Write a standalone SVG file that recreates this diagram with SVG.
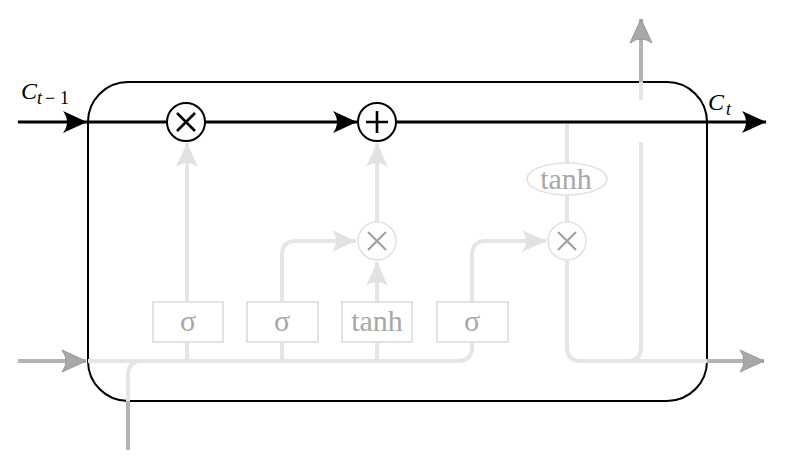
<svg xmlns="http://www.w3.org/2000/svg" width="785" height="455" viewBox="0 0 785 455">
<style>
.light{fill:none;stroke:#e5e5e5;stroke-width:4}
.dark{fill:none;stroke:#b3b3b3;stroke-width:4}
.cell{fill:none;stroke:#000;stroke-width:3}
.layer{fill:#fff;stroke:#e3e3e3;stroke-width:2}
.ltxt{font-family:"Liberation Serif","DejaVu Serif",serif;font-size:30px;fill:#a8a8a8;text-anchor:middle}
.gcirc{fill:#fff;stroke:#e2e2e2;stroke-width:1.6}
.gx{stroke:#9e9e9e;stroke-width:2;fill:none}
.bcirc{fill:#fff;stroke:#000;stroke-width:2}
.bx{stroke:#000;stroke-width:2.6;fill:none}
.lbl{font-family:"Liberation Serif","DejaVu Serif",serif;font-style:italic;fill:#000}
</style>
<defs>
<marker id="ab" markerUnits="userSpaceOnUse" viewBox="-26 -12 28 24" refX="0" refY="0" markerWidth="28" markerHeight="24" orient="auto">
<path d="M0,0 L-24,-11 Q-16,0 -24,11 Z" fill="#000"/>
</marker>
<marker id="al" markerUnits="userSpaceOnUse" viewBox="-26 -12 28 24" refX="0" refY="0" markerWidth="28" markerHeight="24" orient="auto">
<path d="M0,0 L-24,-11 Q-16,0 -24,11 Z" fill="#e2e2e2"/>
</marker>
<marker id="ag" markerUnits="userSpaceOnUse" viewBox="-26 -12 28 24" refX="0" refY="0" markerWidth="28" markerHeight="24" orient="auto">
<path d="M0,0 L-24,-11 Q-16,0 -24,11 Z" fill="#a8a8a8" stroke="#999" stroke-width="1"/>
</marker>
</defs>
<rect width="785" height="455" fill="#fff"/>

<g id="cell-box">
<rect x="88" y="82" width="619" height="319" rx="40" ry="40" fill="none" stroke="#000" stroke-width="2"/>
</g>

<g id="connectors">
<path class="dark" d="M18,361 H86" marker-end="url(#ag)"/>
<path class="dark" d="M128,450 V401"/>
<path class="light" d="M128,401 V375 Q128,361 142,361"/>
<path class="light" d="M88,361 H458 Q472,361 472,347 V342"/>
<path class="light" d="M187,342 V361 M282,342 V361 M377,342 V361"/>
<path class="light" d="M187,302 V143" marker-end="url(#al)"/>
<path class="light" d="M377,302 V262" marker-end="url(#al)"/>
<path class="light" d="M377,222 V143" marker-end="url(#al)"/>
<path class="light" d="M282,302 V255 Q282,241 296,241 H356" marker-end="url(#al)"/>
<path class="light" d="M472,302 V255 Q472,241 486,241 H546" marker-end="url(#al)"/>
<path class="light" d="M567,124 V163 M567,195 V222"/>
<path class="light" d="M567,260 V347 Q567,361 581,361 H707"/>
<path class="dark" d="M707,361 H764" marker-end="url(#ag)"/>
<path class="light" d="M627,361 Q641,361 641,347 V142"/>
<path class="light" d="M641,100 V82"/>
<path class="dark" d="M641,82 V19" marker-end="url(#ag)"/>
<path class="cell" d="M18,122 H87" marker-end="url(#ab)"/>
<path class="cell" d="M88,122 H168"/>
<path class="cell" d="M205,122 H357" marker-end="url(#ab)"/>
<path class="cell" d="M396,122 H766" marker-end="url(#ab)"/>
</g>

<g id="forget-mult">
<circle class="bcirc" cx="186" cy="122" r="19"/>
<path class="bx" d="M177,113 L195,131 M195,113 L177,131"/>
</g>
<g id="add">
<circle class="bcirc" cx="377" cy="122" r="19"/>
<path class="bx" d="M366,122 H388 M377,111 V133"/>
</g>
<g id="input-mult">
<circle class="gcirc" cx="377" cy="241" r="19"/>
<path class="gx" d="M368,232 L386,250 M386,232 L368,250"/>
</g>
<g id="output-mult">
<circle class="gcirc" cx="567" cy="241" r="19"/>
<path class="gx" d="M558,232 L576,250 M576,232 L558,250"/>
</g>
<g id="tanh-out">
<ellipse cx="567" cy="179" rx="40" ry="16" fill="#fff" stroke="#e2e2e2" stroke-width="1.6"/>
<text class="ltxt" x="566" y="189">tanh</text>
</g>

<g id="forget-gate">
<rect class="layer" x="153" y="302" width="70" height="40"/>
<text class="ltxt" x="188" y="331">σ</text>
</g>
<g id="input-gate">
<rect class="layer" x="247" y="302" width="71" height="40"/>
<text class="ltxt" x="282" y="331">σ</text>
</g>
<g id="candidate">
<rect class="layer" x="342" y="302" width="70" height="40"/>
<text class="ltxt" x="377" y="331">tanh</text>
</g>
<g id="output-gate">
<rect class="layer" x="437" y="302" width="71" height="40"/>
<text class="ltxt" x="472" y="331">σ</text>
</g>

<g id="labels">
<text class="lbl" x="21" y="99" font-size="24">C</text>
<text class="lbl" y="104" font-size="18"><tspan x="37">t</tspan><tspan x="45" font-style="normal">−</tspan><tspan x="60" font-style="normal">1</tspan></text>
<text class="lbl" x="708" y="110" font-size="24">C</text>
<text class="lbl" x="726" y="115" font-size="18">t</text>
</g>
</svg>
